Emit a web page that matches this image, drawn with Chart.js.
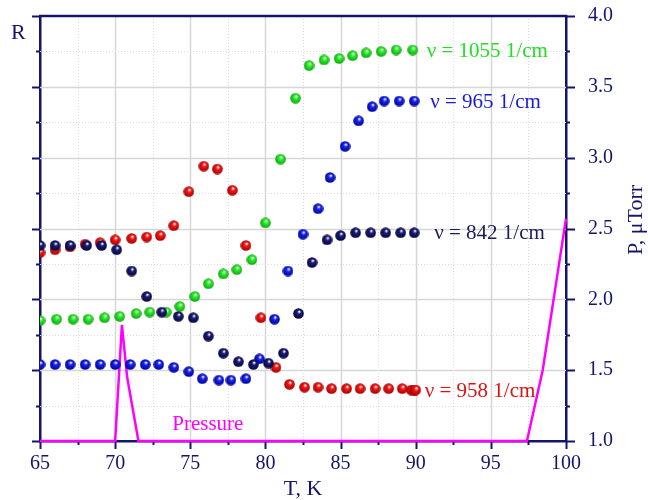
<!DOCTYPE html>
<html>
<head>
<meta charset="utf-8">
<script src="https://cdn.jsdelivr.net/npm/chart.js@4.4.1/dist/chart.umd.min.js"></script>
<style>
  html, body { margin: 0; padding: 0; background: #fff; }
</style>
</head>
<body>
<canvas id="rChart" width="648" height="500"></canvas>
<script>
// temperature (K) and reflectance for each wavenumber
const t1055 = [65.0, 66.1, 67.2, 68.2, 69.3, 70.3, 71.4, 72.3, 73.4, 74.3, 75.3, 76.2, 77.2, 78.1, 79.1, 80.0, 81.0, 82.0, 82.9, 83.9, 84.9, 85.8, 86.7, 87.7, 88.7, 89.8];
const r1055 = [1.85, 1.86, 1.86, 1.86, 1.87, 1.88, 1.90, 1.91, 1.91, 1.95, 2.02, 2.11, 2.18, 2.21, 2.28, 2.54, 2.99, 3.42, 3.65, 3.69, 3.70, 3.72, 3.74, 3.75, 3.76, 3.76];

const t965 = [65.0, 66.0, 67.0, 68.0, 69.0, 70.0, 71.0, 72.0, 72.9, 73.9, 74.9, 75.8, 76.9, 77.7, 78.7, 79.6, 80.6, 81.5, 82.5, 83.5, 84.3, 85.3, 86.2, 87.1, 87.9, 88.9, 89.9];
const r965 = [1.54, 1.54, 1.54, 1.54, 1.54, 1.54, 1.54, 1.54, 1.54, 1.52, 1.49, 1.44, 1.43, 1.43, 1.44, 1.58, 1.86, 2.20, 2.46, 2.64, 2.86, 3.08, 3.26, 3.36, 3.40, 3.40, 3.40];

const t842 = [65.0, 66.0, 67.0, 68.1, 69.1, 70.1, 71.1, 72.1, 73.1, 74.2, 75.2, 76.2, 77.2, 78.2, 79.2, 80.2, 81.2, 82.2, 83.1, 84.1, 85.0, 86.0, 87.0, 88.0, 89.0, 89.9];
const r842 = [2.38, 2.38, 2.38, 2.38, 2.38, 2.35, 2.20, 2.02, 1.91, 1.88, 1.87, 1.74, 1.62, 1.56, 1.54, 1.55, 1.62, 1.90, 2.26, 2.42, 2.45, 2.47, 2.47, 2.47, 2.47, 2.47];

const t958 = [65.0, 66.0, 67.0, 68.0, 69.0, 70.0, 71.1, 72.1, 73.0, 73.9, 74.9, 75.9, 76.8, 77.8, 78.7, 79.7, 80.7, 81.6, 82.6, 83.5, 84.4, 85.4, 86.3, 87.3, 88.2, 89.1, 89.7, 89.9, 90.0];
const r958 = [2.33, 2.35, 2.37, 2.39, 2.40, 2.42, 2.43, 2.44, 2.45, 2.52, 2.76, 2.94, 2.92, 2.77, 2.38, 1.87, 1.52, 1.40, 1.38, 1.38, 1.37, 1.37, 1.37, 1.37, 1.37, 1.37, 1.36, 1.36, 1.36];

// chamber pressure, uTorr
const tPressure = [65, 70.0, 70.45, 70.8, 71.55, 97.4, 98.45, 100];
const pPressure = [1.0, 1.0, 1.82, 1.45, 1.0, 1.0, 1.5, 2.57];

const NAVY = "#14146b";
const SERIF = "'Liberation Serif', 'DejaVu Serif', serif";

// shaded ball used as point marker
function ball(base, dark) {
	const c = document.createElement("canvas");
	const s = 11;
	c.width = s;
	c.height = s;
	const g = c.getContext("2d");
	const grad = g.createRadialGradient(s * 0.58, s * 0.32, 0.4, s / 2, s / 2, s / 2);
	grad.addColorStop(0, "#ffffff");
	grad.addColorStop(0.3, base);
	grad.addColorStop(1, dark);
	g.fillStyle = grad;
	g.beginPath();
	g.arc(s / 2, s / 2, s / 2 - 0.2, 0, Math.PI * 2);
	g.fill();
	return c;
}

const pairs = (xs, ys) => xs.map((x, i) => ({ x: x, y: ys[i] }));

const series = [
	{ label: "ν = 842 1/cm", t: t842, r: r842, base: "#1c1c78", dark: "#06063a", text: "#1a1a5e", dx: 20, order: 1 },
	{ label: "ν = 965 1/cm", t: t965, r: r965, base: "#1826ee", dark: "#00009a", text: "#1a1acc", dx: 16, order: 2 },
	{ label: "ν = 1055 1/cm", t: t1055, r: r1055, base: "#2af52a", dark: "#10a010", text: "#22dd22", dx: 14, order: 3 },
	{ label: "ν = 958 1/cm", t: t958, r: r958, base: "#fa1818", dark: "#a00000", text: "#dd1111", dx: 9, order: 4 },
];

const datasets = series.map((s) => ({
	label: s.label,
	data: pairs(s.t, s.r),
	yAxisID: "yR",
	showLine: false,
	pointStyle: ball(s.base, s.dark),
	order: s.order,
	textColor: s.text,
	labelDx: s.dx,
}));

datasets.push({
	label: "Pressure",
	data: pairs(tPressure, pPressure),
	yAxisID: "yP",
	showLine: true,
	pointRadius: 0,
	borderColor: "#ff00ff",
	borderWidth: 2.5,
	tension: 0,
	clip: false,
	order: 5,
});

// grid (solid major, dotted minor), outer tick marks and text labels
const frame = {
	id: "frame",
	beforeDatasetsDraw(chart) {
		const { ctx, chartArea: a, scales } = chart;
		const x = scales.x;
		const y = scales.yP;
		ctx.save();
		for (let v = 65; v <= 100.001; v += 2.5) {
			const px = Math.round(x.getPixelForValue(v)) + 0.5;
			const major = Math.abs(v % 5) < 1e-6;
			if (v > 65 && v < 100) {
				ctx.strokeStyle = major ? "#d6d6d6" : "#dcdcdc";
				ctx.lineWidth = major ? 1.5 : 1;
				ctx.setLineDash(major ? [] : [1, 2]);
				ctx.beginPath();
				ctx.moveTo(px, a.top);
				ctx.lineTo(px, a.bottom);
				ctx.stroke();
			}
			ctx.setLineDash([]);
			ctx.strokeStyle = NAVY;
			ctx.lineWidth = 2;
			ctx.beginPath();
			ctx.moveTo(px, a.bottom);
			ctx.lineTo(px, a.bottom + (major ? 8 : 4));
			ctx.stroke();
		}
		for (let v = 1; v <= 4.001; v += 0.25) {
			const py = Math.round(y.getPixelForValue(v)) + 0.5;
			const major = Math.abs((v * 2) % 1) < 1e-6;
			if (v > 1 && v < 4) {
				ctx.strokeStyle = major ? "#d6d6d6" : "#dcdcdc";
				ctx.lineWidth = major ? 1.5 : 1;
				ctx.setLineDash(major ? [] : [1, 2]);
				ctx.beginPath();
				ctx.moveTo(a.left, py);
				ctx.lineTo(a.right, py);
				ctx.stroke();
			}
			ctx.setLineDash([]);
			ctx.strokeStyle = NAVY;
			ctx.lineWidth = 2;
			ctx.beginPath();
			ctx.moveTo(a.left, py);
			ctx.lineTo(a.left - (major ? 8 : 4), py);
			ctx.moveTo(a.right, py);
			ctx.lineTo(a.right + (major ? 9 : 4), py);
			ctx.stroke();
		}
		// top frame line
		ctx.strokeStyle = NAVY;
		ctx.lineWidth = 2.5;
		ctx.beginPath();
		ctx.moveTo(a.left - 1, a.top);
		ctx.lineTo(a.right + 1, a.top);
		ctx.stroke();
		ctx.restore();
	},
	afterDraw(chart) {
		const { ctx, chartArea: a, scales } = chart;
		ctx.save();
		ctx.textBaseline = "middle";
		ctx.font = "21px " + SERIF;
		chart.data.datasets.forEach((ds, i) => {
			if (!ds.textColor) return;
			const pts = chart.getDatasetMeta(i).data;
			const last = pts[pts.length - 1];
			ctx.fillStyle = ds.textColor;
			ctx.textAlign = "left";
			ctx.fillText(ds.label, last.x + ds.labelDx, last.y + 1);
		});
		ctx.fillStyle = "#ff00ff";
		ctx.fillText("Pressure", scales.x.getPixelForValue(73.8), scales.yP.getPixelForValue(1.12));

		ctx.fillStyle = NAVY;
		ctx.font = "22px " + SERIF;
		ctx.textAlign = "left";
		ctx.fillText("R", 11, 33);
		ctx.textAlign = "center";
		ctx.fillText("T, K", (a.left + a.right) / 2, 489);
		ctx.translate(636, 220);
		ctx.rotate(-Math.PI / 2);
		ctx.fillText("P, μTorr", 0, 0);
		ctx.restore();
	},
};

const tickFont = { family: SERIF, size: 20 };

// fixed axis sizes so the plot box sits where the reference has it
const fixBox = (w, h) => (s) => {
	if (w !== null) s.width = w;
	if (h !== null) s.height = h;
	s.paddingTop = 0;
	s.paddingBottom = 0;
	s.paddingLeft = 0;
	s.paddingRight = 0;
};

new Chart(document.getElementById("rChart"), {
	type: "scatter",
	data: { datasets: datasets },
	plugins: [frame],
	options: {
		responsive: false,
		animation: false,
		layout: { padding: { top: 16, left: 0, right: 0, bottom: 0 } },
		plugins: {
			legend: { display: false },
			tooltip: { enabled: false },
		},
		scales: {
			x: {
				type: "linear",
				position: "bottom",
				min: 65,
				max: 100,
				ticks: { stepSize: 5, color: NAVY, font: tickFont, padding: 3, maxRotation: 0 },
				grid: { display: false },
				border: { color: NAVY, width: 2.5 },
				afterFit: fixBox(null, 59),
			},
			yR: {
				type: "linear",
				position: "left",
				min: 1,
				max: 4,
				ticks: { display: false },
				grid: { display: false },
				border: { color: NAVY, width: 2.5 },
				afterFit: fixBox(40, null),
			},
			yP: {
				type: "linear",
				position: "right",
				min: 1,
				max: 4,
				ticks: {
					stepSize: 0.5,
					color: NAVY,
					font: tickFont,
					padding: 14,
					callback: (v) => v.toFixed(1),
				},
				grid: { display: false },
				border: { color: NAVY, width: 2.5 },
				afterFit: fixBox(82, null),
			},
		},
	},
});
</script>
</body>
</html>
